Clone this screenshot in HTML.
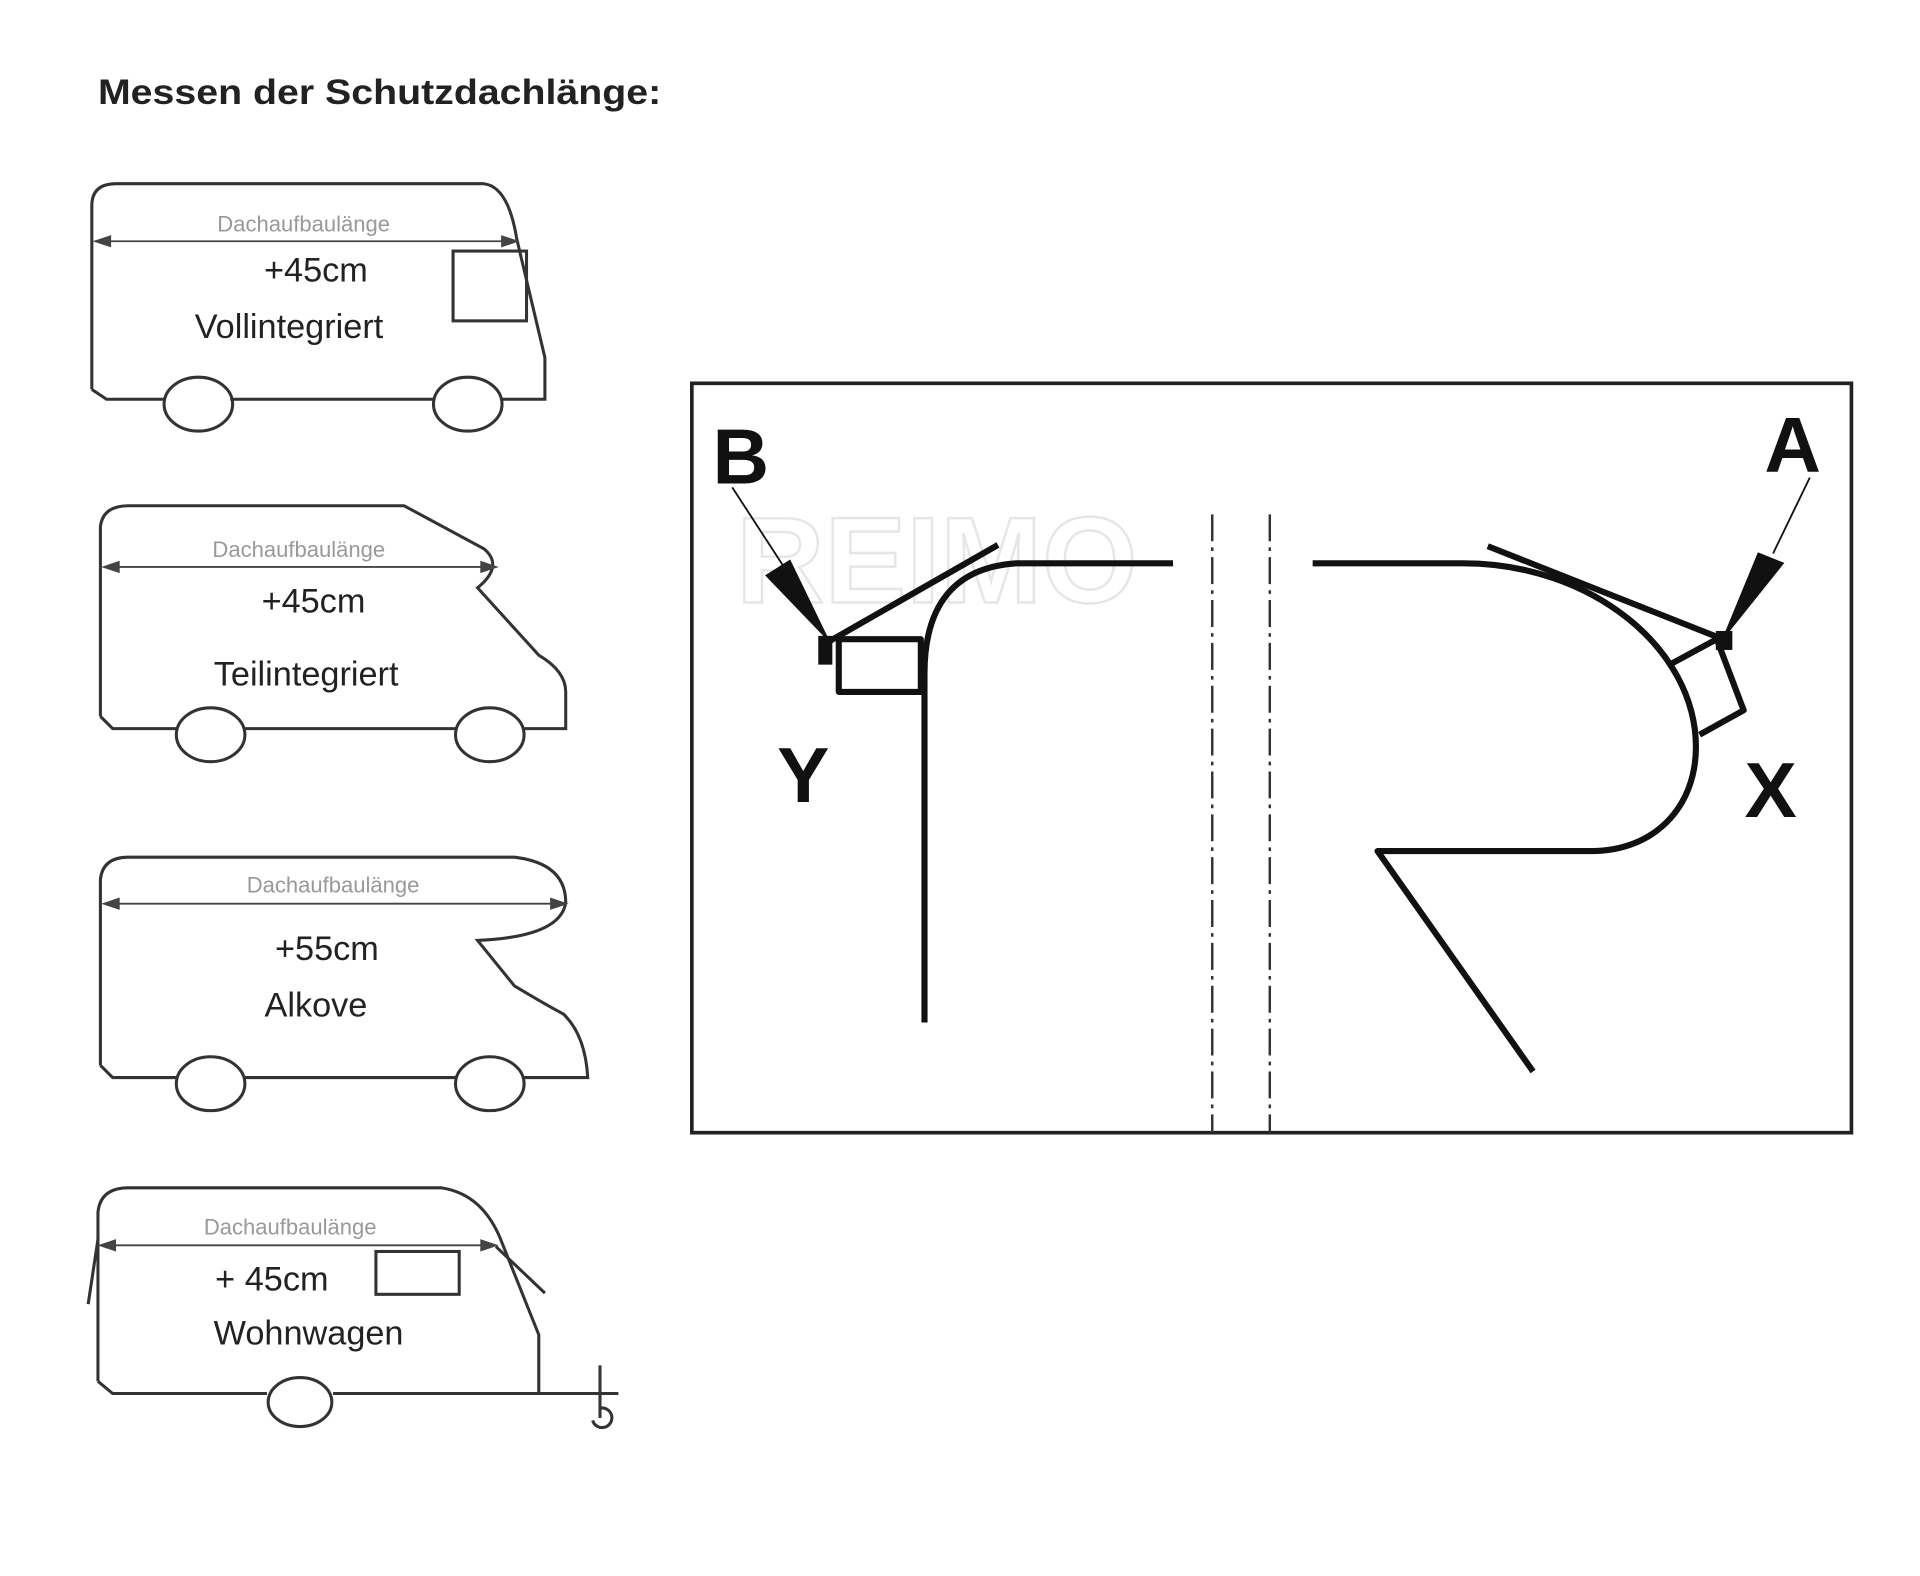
<!DOCTYPE html>
<html><head><meta charset="utf-8"><style>html,body{margin:0;padding:0;background:#fff}svg{display:block}</style></head><body>
<svg width="1920" height="1576" viewBox="0 0 1568 1287" xmlns="http://www.w3.org/2000/svg" font-family="Liberation Sans, sans-serif">
<rect width="1568" height="1287" fill="#fff"/>
<text x="80" y="85" font-size="29" font-weight="bold" fill="#222" textLength="460" lengthAdjust="spacingAndGlyphs">Messen der Schutzdachlänge:</text>

<g fill="none" stroke="#333" stroke-width="2.5">
<!-- V1 -->
<path d="M75,318 L75,168 Q75,150 95,150 L395,150 Q415,152 422,195 L445,292 L445,326 L410,326 M355,326 L188,326 M135,326 L87,326 L75,318"/>
<ellipse cx="162" cy="330" rx="28" ry="22"/><ellipse cx="382" cy="330" rx="28" ry="22"/>
<rect x="370" y="205" width="60" height="57"/>
<!-- V2 -->
<path d="M82,585 L82,430 Q84,413 105,413 L330,413 L395,448 Q412,462 390,480 L440,535 Q462,548 462,565 L462,595 L428,595 M372,595 L200,595 M145,595 L92,595 L82,585"/>
<ellipse cx="172" cy="600" rx="28" ry="22"/><ellipse cx="400" cy="600" rx="28" ry="22"/>
<!-- V3 -->
<path d="M82,870 L82,718 Q84,700 105,700 L420,700 Q462,705 462,737 Q458,765 390,768 L420,805 Q445,820 460,828 Q478,845 480,880 L428,880 M372,880 L200,880 M145,880 L92,880 L82,870"/>
<ellipse cx="172" cy="885" rx="28" ry="22"/><ellipse cx="400" cy="885" rx="28" ry="22"/>
<!-- V4 -->
<path d="M80,1128 L80,990 Q82,970 105,970 L360,970 Q395,975 410,1015 L440,1090 L440,1138 L505,1138 M440,1138 L272,1138 M218,1138 L92,1138 L80,1128"/>
<ellipse cx="245" cy="1145" rx="26" ry="20"/>
<rect x="307" y="1022" width="68" height="35"/>
<path d="M72,1065 L80,1012 M405,1018 L445,1056 M490,1115 L490,1158 M484,1160 A8,8 0 1 0 490,1150"/>
</g>
<g stroke="#444" stroke-width="1.5" fill="#444">
<path d="M78,197 L422,197 M85,463 L405,463 M85,738 L462,738 M82,1017 L405,1017"/>
<path d="M78,197 l12,-4 v8z M422,197 l-12,-4 v8z M85,463 l12,-4 v8z M405,463 l-12,-4 v8z M85,738 l12,-4 v8z M462,738 l-12,-4 v8z M82,1017 l12,-4 v8z M405,1017 l-12,-4 v8z"/>
</g>
<g fill="#999" font-size="18" text-anchor="middle">
<text x="248" y="189">Dachaufbaulänge</text>
<text x="244" y="455">Dachaufbaulänge</text>
<text x="272" y="729">Dachaufbaulänge</text>
<text x="237" y="1008">Dachaufbaulänge</text>
</g>
<g fill="#222" font-size="28" text-anchor="middle">
<text x="258" y="230">+45cm</text>
<text x="236" y="276">Vollintegriert</text>
<text x="256" y="500">+45cm</text>
<text x="250" y="560">Teilintegriert</text>
<text x="267" y="784">+55cm</text>
<text x="258" y="830">Alkove</text>
<text x="222" y="1054">+  45cm</text>
<text x="252" y="1098">Wohnwagen</text>
</g>

<!-- right box -->
<rect x="565" y="313" width="947" height="612" fill="none" stroke="#222" stroke-width="3"/>
<text x="605" y="395" font-size="64" font-weight="bold" fill="#111" text-anchor="middle" font-family="Liberation Sans Narrow, Liberation Sans, sans-serif">B</text>
<text x="656" y="655" font-size="64" font-weight="bold" fill="#111" text-anchor="middle" font-family="Liberation Sans Narrow, Liberation Sans, sans-serif">Y</text>
<text x="1464" y="385" font-size="64" font-weight="bold" fill="#111" text-anchor="middle" font-family="Liberation Sans Narrow, Liberation Sans, sans-serif">A</text>
<text x="1446" y="667" font-size="64" font-weight="bold" fill="#111" text-anchor="middle" font-family="Liberation Sans Narrow, Liberation Sans, sans-serif">X</text>
<text x="765" y="492" font-size="100" font-weight="bold" fill="none" stroke="#e6e6e6" stroke-width="2" text-anchor="middle">REIMO</text>
<g stroke="#333" stroke-width="2" stroke-dasharray="22,5,3,5" fill="none">
<path d="M990,420 L990,925 M1037,420 L1037,925"/>
</g>
<g fill="none" stroke="#111" stroke-width="5" stroke-linejoin="round">
<path d="M958,460 L830,460 Q755,465 755,550 L755,835"/>
<path d="M675,525 L815,445"/>
<rect x="685" y="522" width="67" height="43"/>
<path d="M1072,460 L1195,460 C1300,460 1385,530 1385,610 C1385,660 1350,695 1300,695 L1125,695 L1252,875"/>
<path d="M1215,446 L1402,520"/>
<path d="M1365,542 L1402,522 L1424,580 L1388,600"/>
</g>
<g fill="#111" stroke="#111" stroke-width="1.5">
<path d="M598,398 L650,478"/>
<path d="M626,470 L645,458 L676,522z"/>
<rect x="669" y="520" width="10" height="22"/>
<path d="M1478,390 L1448,452"/>
<path d="M1436,452 L1456,460 L1408,520z"/>
<rect x="1402" y="516" width="12" height="14"/>
</g>
</svg>
</body></html>
